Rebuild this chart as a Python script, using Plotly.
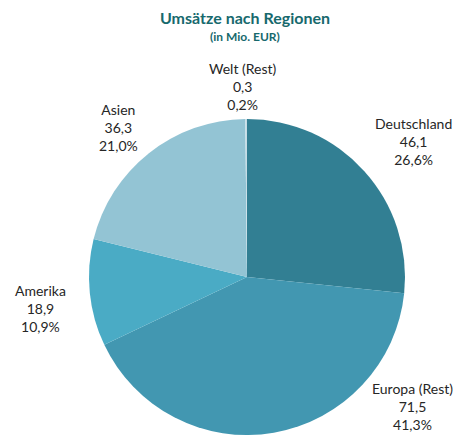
import plotly.graph_objects as go

# ── Data ──────────────────────────────────────────────────────────────────────
regions = ["Deutschland", "Europa (Rest)", "Amerika", "Asien", "Welt (Rest)"]
sales = [46.1, 71.5, 18.9, 36.3, 0.3]
colors = ["#327f93", "#4297b1", "#4aabc5", "#93c4d4", "#c6dde6"]

# label anchor points in pixels (x, y from top), one per region
label_px = [(413, 141), (412, 406), (40, 308), (118, 127), (243, 86)]

W, H = 457, 435
total = sum(sales)


def de(v, fmt):
    return fmt.format(v).replace(".", ",")


fig = go.Figure(
    go.Pie(
        labels=regions,
        values=sales,
        sort=False,
        direction="clockwise",
        rotation=0,
        marker=dict(colors=colors, line=dict(width=0)),
        textinfo="none",
        hoverinfo="label+value+percent",
        domain=dict(x=[89 / W, 405 / W], y=[0, 1 - 119 / H]),
        showlegend=False,
    )
)

for name, val, (px_, py_) in zip(regions, sales, label_px):
    fig.add_annotation(
        text=f"{name}<br>{de(val, '{:.1f}')}<br>{de(val / total * 100, '{:.1f}')}%",
        x=px_ / W, y=1 - py_ / H,
        xref="paper", yref="paper",
        xanchor="center", yanchor="middle",
        showarrow=False,
        align="center",
        font=dict(family="Lato, Open Sans, sans-serif", size=14, color="#262626"),
    )

fig.add_annotation(
    text="<b>Umsätze nach Regionen</b>",
    x=245 / W, y=1 - 18 / H, xref="paper", yref="paper",
    xanchor="center", yanchor="middle", showarrow=False,
    font=dict(family="Lato, Open Sans, sans-serif", size=16, color="#17696d"),
)
fig.add_annotation(
    text="<b>(in Mio. EUR)</b>",
    x=245 / W, y=1 - 37 / H, xref="paper", yref="paper",
    xanchor="center", yanchor="middle", showarrow=False,
    font=dict(family="Lato, Open Sans, sans-serif", size=12, color="#17696d"),
)

fig.update_layout(
    width=W, height=H,
    margin=dict(l=0, r=0, t=0, b=0),
    paper_bgcolor="white",
    plot_bgcolor="white",
)

# drop the default 8px body margin so the figure sits flush in the window
fig.write_html(
    "out.html",
    config={"displayModeBar": False},
    post_script="document.body.style.margin='0';",
)
